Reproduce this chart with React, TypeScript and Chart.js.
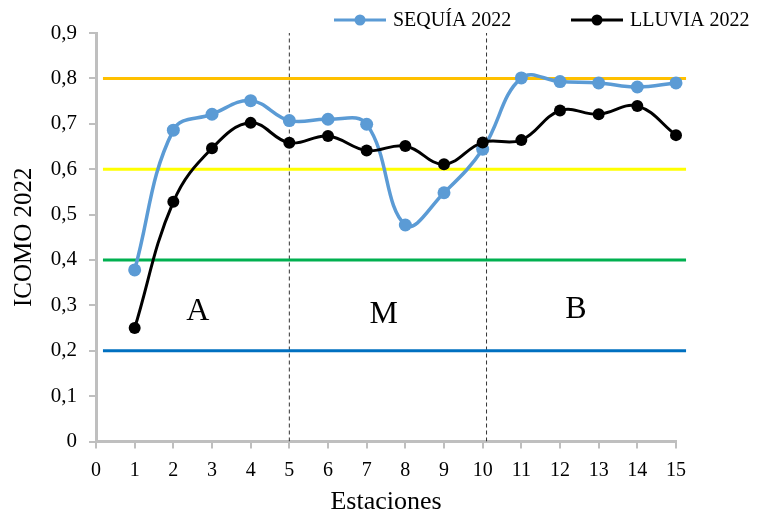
import React, { useEffect, useRef } from "react";
import { Chart, registerables } from "chart.js";

Chart.register(...registerables);

const stations = [1, 2, 3, 4, 5, 6, 7, 8, 9, 10, 11, 12, 13, 14, 15];
const sequia2022 = [0.378, 0.686, 0.721, 0.751, 0.707, 0.71, 0.699, 0.477, 0.548, 0.644, 0.801, 0.793, 0.79, 0.781, 0.79];
const lluvia2022 = [0.25, 0.528, 0.646, 0.702, 0.658, 0.673, 0.641, 0.651, 0.611, 0.659, 0.664, 0.729, 0.721, 0.739, 0.675];
const seriesNames = ["SEQUÍA 2022", "LLUVIA 2022"];
const thresholds = [0.8, 0.6, 0.4, 0.2];
const thresholdColors = ["#FFC000", "#FFFF00", "#00B050", "#0070C0"];
const thresholdSpan = [0.18, 15.26];
const zoneBounds = [5, 10.1];
const zoneLabels = ["A", "M", "B"];
const zoneLabelX = [2.63, 7.44, 12.41];
const zoneLabelY = [0.287, 0.28, 0.29];

const FONT = "'Liberation Serif', 'Times New Roman', serif";
const BLUE = "#5B9BD5";

export default function App() {
  const ref = useRef<HTMLCanvasElement | null>(null);

  useEffect(() => {
    if (!ref.current) return;

    const overlay = {
      id: "overlay",
      afterDraw(chart: any) {
        const { ctx, scales } = chart;
        ctx.save();
        ctx.fillStyle = "#000";
        ctx.font = `32px ${FONT}`;
        ctx.textAlign = "center";
        ctx.textBaseline = "middle";
        zoneLabels.forEach((t, i) => {
          ctx.fillText(t, scales.x.getPixelForValue(zoneLabelX[i]), scales.y.getPixelForValue(zoneLabelY[i]));
        });
        // legend
        const items = [
          { name: seriesNames[0], color: BLUE, x0: 334, r: 5.5, w: 3 },
          { name: seriesNames[1], color: "#000", x0: 571, r: 5.5, w: 3 },
        ];
        const ly = 20;
        ctx.font = `20px ${FONT}`;
        ctx.textAlign = "left";
        items.forEach((it) => {
          ctx.strokeStyle = it.color;
          ctx.lineWidth = it.w;
          ctx.beginPath();
          ctx.moveTo(it.x0, ly);
          ctx.lineTo(it.x0 + 52, ly);
          ctx.stroke();
          ctx.fillStyle = it.color;
          ctx.beginPath();
          ctx.arc(it.x0 + 26, ly, it.r, 0, Math.PI * 2);
          ctx.fill();
          ctx.fillStyle = "#000";
          ctx.fillText(it.name, it.x0 + 59, ly + 1);
        });
        ctx.restore();
      },
    };

    const thresholdSets = thresholds.map((v, i) => ({
      label: "t" + i,
      data: thresholdSpan.map((x) => ({ x, y: v })),
      borderColor: thresholdColors[i],
      borderWidth: 3,
      pointRadius: 0,
      tension: 0,
      clip: false as any,
      order: 2,
    }));

    const dividerSets = zoneBounds.map((x, i) => ({
      label: "d" + i,
      data: [
        { x, y: 0 },
        { x, y: 0.9 },
      ],
      borderColor: "#333",
      borderWidth: 1,
      borderDash: [4, 3],
      pointRadius: 0,
      tension: 0,
      order: 3,
    }));

    const chart = new Chart(ref.current, {
      type: "line",
      data: {
        datasets: [
          {
            label: seriesNames[1],
            data: stations.map((x, i) => ({ x, y: lluvia2022[i] })),
            borderColor: "#000",
            backgroundColor: "#000",
            borderWidth: 3,
            pointRadius: 6,
            pointBorderWidth: 0,
            tension: 0.4,
            clip: false as any,
            order: 0,
          },
          {
            label: seriesNames[0],
            data: stations.map((x, i) => ({ x, y: sequia2022[i] })),
            borderColor: BLUE,
            backgroundColor: BLUE,
            borderWidth: 3.5,
            pointRadius: 6.5,
            pointBorderWidth: 0,
            tension: 0.4,
            clip: false as any,
            order: 1,
          },
          ...thresholdSets,
          ...dividerSets,
        ] as any,
      },
      options: {
        animation: false,
        responsive: false,
        layout: { padding: { top: 33, right: 89, left: 0, bottom: 0 } },
        plugins: { legend: { display: false }, tooltip: { enabled: false } },
        scales: {
          x: {
            type: "linear",
            min: 0,
            max: 15,
            afterFit: (s: any) => {
              s.height = 74.5;
            },
            ticks: { stepSize: 1, color: "#000", font: { family: FONT, size: 20 }, padding: 10 },
            grid: { drawOnChartArea: false, drawTicks: true, tickLength: 7, color: "#BFBFBF", lineWidth: 2 },
            border: { display: true, color: "#BFBFBF", width: 3 },
            title: { display: true, text: "Estaciones", color: "#000", font: { family: FONT, size: 26 }, padding: { bottom: -2, top: 0 } },
          },
          y: {
            type: "linear",
            min: 0,
            max: 0.9,
            afterFit: (s: any) => {
              s.width = 96;
            },
            ticks: {
              stepSize: 0.1,
              color: "#000",
              font: { family: FONT, size: 21 },
              padding: 12,
              callback: (v: any) => (Number(v) === 0 ? "0" : Number(v).toFixed(1).replace(".", ",")),
            },
            grid: { drawOnChartArea: false, drawTicks: true, tickLength: 7, color: "#BFBFBF", lineWidth: 2 },
            border: { display: true, color: "#BFBFBF", width: 3 },
            title: { display: true, text: "ICOMO 2022", color: "#000", font: { family: FONT, size: 25 }, padding: { top: 9, bottom: 0 } },
          },
        },
      },
      plugins: [overlay],
    });

    return () => chart.destroy();
  }, []);

  return (
    <div style={{ position: "absolute", left: 0, top: 0, width: 765, height: 516, background: "#fff" }}>
      <canvas ref={ref} width={765} height={516} />
    </div>
  );
}
